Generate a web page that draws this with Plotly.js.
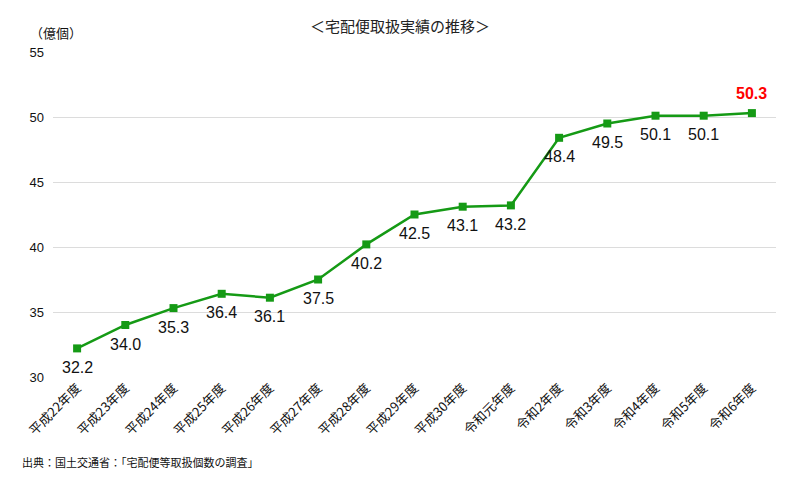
<!DOCTYPE html>
<html><head><meta charset="utf-8">
<script src="https://cdn.plot.ly/plotly-3.0.1.min.js"></script>
<style>html,body{margin:0;padding:0;background:#fff}#c{width:800px;height:480px}</style>
</head><body><div id="c"></div>
<script>
const categories = ["平成22年度","平成23年度","平成24年度","平成25年度","平成26年度","平成27年度","平成28年度","平成29年度","平成30年度","令和元年度","令和2年度","令和3年度","令和4年度","令和5年度","令和6年度"];
const values = [32.2, 34.0, 35.3, 36.4, 36.1, 37.5, 40.2, 42.5, 43.1, 43.2, 48.4, 49.5, 50.1, 50.1, 50.3];
const yTicks = [30, 35, 40, 45, 50, 55];

const jp = '"Noto Sans CJK JP", sans-serif';
const latin = '"Liberation Sans", Arial, sans-serif';
const n = values.length;
const lastIdx = n - 1;
const trace = {
  x: categories, y: values, type: 'scatter', mode: 'lines+markers',
  line: {color: '#159a15', width: 2.5},
  marker: {symbol: 'square', size: 8, color: '#159a15'},
  cliponaxis: false, hoverinfo: 'none'
};
const plotH = 480 - 52 - 103;
const valueLabels = values.map((v, i) => i === lastIdx
  ? {x: categories[i], y: v, xref: 'x', yref: 'y', text: '<b>' + v.toFixed(1) + '</b>', showarrow: false,
     yshift: 20, font: {family: latin, size: 16, color: '#ff0000'}}
  : {x: categories[i], y: v, xref: 'x', yref: 'y', text: v.toFixed(1), showarrow: false,
     yshift: -19, font: {family: latin, size: 16, color: '#111'}});
const layout = {
  width: 800, height: 480,
  margin: {l: 53, r: 24, t: 52, b: 103},
  paper_bgcolor: '#fff', plot_bgcolor: '#fff',
  showlegend: false,
  title: {text: '＜宅配便取扱実績の推移＞', font: {family: jp, size: 15, color: '#222'}, x: 0.5, xanchor: 'center', y: 0.945, yanchor: 'middle'},
  xaxis: {type: 'category', range: [-0.5, n - 0.5], showgrid: false, zeroline: false, showline: false,
    tickangle: -45, tickfont: {family: jp, size: 13, color: '#111'}, ticks: '', fixedrange: true},
  yaxis: {range: [30, 55], tickvals: yTicks, showgrid: true, gridcolor: '#dcdcdc', gridwidth: 1,
    zeroline: false, showline: false, ticks: '', ticklabelstandoff: 8,
    tickfont: {family: latin, size: 13, color: '#111'}, fixedrange: true},
  annotations: valueLabels.concat([
    {xref: 'paper', yref: 'paper', x: 3/723, y: 1 + 19/plotH, xanchor: 'center', yanchor: 'middle', text: '（億個）', showarrow: false,
     font: {family: jp, size: 13, color: '#111'}},
    {xref: 'paper', yref: 'paper', x: -33/723, y: -85/plotH, xanchor: 'left', yanchor: 'middle', text: '出典：国土交通省：「宅配便等取扱個数の調査」', showarrow: false,
     font: {family: jp, size: 11, color: '#111'}}
  ])
};
Plotly.newPlot('c', [trace], layout, {displayModeBar: false, staticPlot: true});
</script>
</body></html>
